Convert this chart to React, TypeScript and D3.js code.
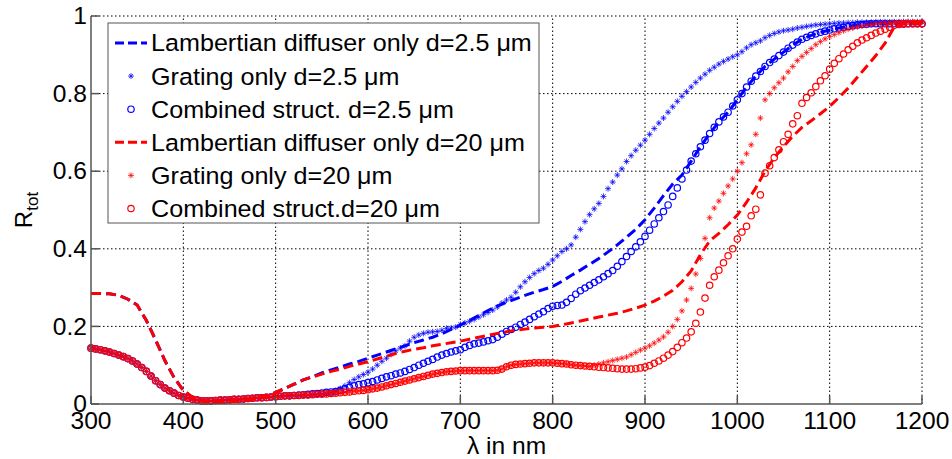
import React from 'react';
import * as d3 from 'd3';

const W = 952;
const H = 459;

// wavelength grids (nm)
const FINE_START = 300, FINE_STEP = 5;
const COARSE_START = 300, COARSE_STEP = 10;

const xTicks = [300, 400, 500, 600, 700, 800, 900, 1000, 1100, 1200];
const yTicks = [0, 0.2, 0.4, 0.6, 0.8, 1];
const yTickLabels = ['0', '0.2', '0.4', '0.6', '0.8', '1'];

// Lambertian diffuser only d=2.5 um (10 nm step)
const lambert25 = [
  .285,.285,.284,.280,.270,.255,.215,.165,.112,.068,
  .035,.017,.008,.005,.005,.006,.008,.011,.015,.021,
  .030,.040,.051,.062,.070,.080,.088,.095,.103,.110,
  .118,.126,.134,.142,.150,.158,.165,.172,.181,.192,
  .203,.215,.228,.241,.252,.262,.271,.280,.288,.295,
  .303,.316,.331,.345,.360,.375,.392,.410,.430,.450,
  .475,.505,.537,.567,.590,.626,.663,.697,.727,.752,
  .784,.817,.845,.870,.889,.907,.925,.940,.950,.958,
  .964,.969,.973,.977,.979,.980,.980,.980,.980,.980,
  .980,
];

// Grating only d=2.5 um (5 nm step)
const grating25 = [
  .144,.142,.140,.137,.134,.130,.126,.122,.117,.111,
  .103,.094,.084,.072,.060,.050,.041,.034,.028,.022,
  .018,.015,.012,.010,.008,.008,.008,.009,.010,.010,
  .011,.012,.012,.013,.014,.015,.016,.016,.017,.018,
  .019,.020,.021,.021,.022,.022,.023,.023,.024,.025,
  .025,.026,.030,.034,.040,.047,.055,.063,.070,.076,
  .082,.090,.100,.110,.118,.128,.137,.144,.150,.162,
  .172,.178,.182,.185,.186,.187,.190,.195,.196,.198,
  .205,.209,.213,.218,.224,.230,.236,.242,.250,.260,
  .268,.275,.288,.302,.315,.326,.336,.344,.350,.360,
  .371,.382,.393,.400,.410,.430,.450,.470,.488,.503,
  .517,.535,.555,.572,.590,.606,.625,.640,.654,.667,
  .680,.695,.710,.724,.737,.752,.766,.780,.793,.805,
  .817,.829,.840,.850,.860,.868,.876,.883,.889,.895,
  .900,.908,.918,.926,.931,.936,.944,.950,.955,.959,
  .962,.964,.966,.969,.971,.973,.975,.977,.978,.979,
  .980,.981,.982,.982,.983,.983,.984,.984,.984,.984,
  .985,.985,.985,.985,.985,.985,.985,.985,.985,.985,
  .985,
];

// Combined struct. d=2.5 um (5 nm step)
const combined25 = [
  .144,.142,.140,.137,.134,.130,.126,.122,.117,.111,
  .103,.094,.084,.072,.060,.050,.041,.034,.028,.022,
  .018,.015,.012,.010,.008,.008,.008,.009,.010,.010,
  .011,.012,.012,.013,.014,.015,.016,.016,.017,.018,
  .019,.020,.021,.021,.022,.023,.024,.025,.026,.027,
  .028,.030,.031,.032,.035,.039,.043,.047,.050,.052,
  .055,.058,.062,.066,.070,.073,.077,.080,.084,.089,
  .094,.100,.105,.110,.115,.121,.126,.130,.134,.137,
  .140,.146,.151,.155,.157,.160,.163,.166,.172,.180,
  .187,.192,.198,.205,.211,.218,.225,.232,.238,.246,
  .252,.254,.255,.262,.272,.283,.292,.299,.306,.313,
  .320,.328,.336,.344,.355,.367,.380,.393,.405,.418,
  .432,.448,.464,.480,.496,.513,.535,.557,.580,.603,
  .626,.645,.663,.680,.697,.713,.727,.740,.752,.768,
  .784,.800,.817,.832,.845,.857,.870,.880,.889,.898,
  .907,.917,.925,.933,.940,.945,.950,.954,.958,.961,
  .964,.967,.969,.971,.973,.975,.977,.978,.979,.980,
  .980,.980,.980,.980,.980,.980,.980,.980,.980,.980,
  .980,
];

// Lambertian diffuser only d=20 um (10 nm step)
const lambert20 = [
  .285,.285,.284,.280,.270,.255,.215,.165,.112,.068,
  .035,.017,.008,.005,.005,.006,.008,.011,.015,.021,
  .030,.040,.051,.062,.070,.077,.084,.090,.097,.103,
  .109,.116,.123,.130,.136,.141,.145,.150,.154,.158,
  .162,.167,.172,.177,.182,.186,.190,.193,.196,.198,
  .200,.204,.209,.214,.219,.224,.229,.234,.240,.247,
  .255,.265,.278,.293,.315,.343,.385,.420,.440,.462,
  .487,.520,.557,.600,.635,.663,.690,.713,.730,.748,
  .767,.790,.814,.842,.870,.898,.930,.972,.980,.980,
  .980,
];

// Grating only d=20 um (5 nm step)
const grating20 = [
  .144,.142,.140,.137,.134,.130,.126,.122,.117,.111,
  .103,.094,.084,.072,.060,.050,.041,.034,.028,.022,
  .018,.015,.012,.010,.008,.008,.008,.009,.010,.010,
  .011,.012,.012,.013,.014,.015,.016,.016,.017,.018,
  .019,.020,.021,.021,.022,.022,.023,.023,.024,.025,
  .025,.026,.027,.028,.029,.030,.031,.033,.034,.035,
  .037,.039,.041,.044,.047,.050,.053,.056,.059,.062,
  .065,.068,.071,.074,.077,.079,.081,.083,.084,.085,
  .086,.086,.086,.086,.086,.086,.086,.086,.087,.090,
  .096,.100,.102,.103,.104,.105,.106,.106,.106,.106,
  .106,.105,.104,.103,.101,.100,.099,.098,.097,.100,
  .103,.106,.109,.112,.115,.118,.121,.127,.133,.139,
  .144,.150,.157,.165,.173,.185,.200,.218,.240,.268,
  .298,.335,.375,.427,.480,.505,.523,.543,.562,.580,
  .600,.622,.645,.668,.695,.737,.784,.800,.815,.828,
  .840,.856,.870,.885,.896,.906,.916,.926,.934,.941,
  .947,.952,.957,.962,.966,.969,.972,.974,.976,.978,
  .980,.981,.982,.983,.984,.984,.985,.985,.985,.985,
  .985,
];

// Combined struct. d=20 um (5 nm step)
const combined20 = [
  .144,.142,.140,.137,.134,.130,.126,.122,.117,.111,
  .103,.094,.084,.072,.060,.050,.041,.034,.028,.022,
  .018,.015,.012,.010,.008,.008,.008,.009,.010,.010,
  .011,.012,.012,.013,.014,.015,.016,.016,.017,.018,
  .019,.020,.021,.021,.022,.022,.023,.023,.024,.025,
  .025,.026,.027,.028,.029,.030,.031,.033,.034,.035,
  .037,.039,.041,.044,.047,.050,.053,.056,.059,.062,
  .065,.068,.071,.074,.077,.079,.081,.083,.084,.085,
  .086,.086,.086,.086,.086,.086,.086,.086,.087,.090,
  .096,.100,.102,.103,.104,.105,.106,.106,.106,.106,
  .106,.105,.104,.103,.101,.100,.099,.098,.097,.096,
  .095,.094,.093,.092,.091,.090,.090,.090,.091,.093,
  .095,.099,.105,.111,.118,.126,.135,.146,.158,.170,
  .186,.208,.237,.273,.306,.328,.345,.364,.382,.400,
  .425,.443,.458,.485,.502,.539,.595,.614,.635,.655,
  .676,.695,.722,.743,.775,.790,.802,.818,.833,.846,
  .863,.878,.890,.902,.913,.922,.931,.938,.944,.950,
  .956,.961,.966,.971,.976,.978,.979,.980,.980,.980,
  .980,
];

const legendLabels = [
  'Lambertian diffuser only d=2.5 \u03bcm',
  'Grating only d=2.5 \u03bcm',
  'Combined struct. d=2.5 \u03bcm',
  'Lambertian diffuser only d=20 \u03bcm',
  'Grating only d=20 \u03bcm',
  'Combined struct.d=20 \u03bcm',
];

const BLUE = '#0000ff';
const RED = '#ff0000';

type Series = { values: number[]; start: number; step: number; kind: 'dash' | 'star' | 'circle'; color: string };

const series: Series[] = [
  { values: lambert25, start: COARSE_START, step: COARSE_STEP, kind: 'dash', color: BLUE },
  { values: grating25, start: FINE_START, step: FINE_STEP, kind: 'star', color: BLUE },
  { values: combined25, start: FINE_START, step: FINE_STEP, kind: 'circle', color: BLUE },
  { values: lambert20, start: COARSE_START, step: COARSE_STEP, kind: 'dash', color: RED },
  { values: grating20, start: FINE_START, step: FINE_STEP, kind: 'star', color: RED },
  { values: combined20, start: FINE_START, step: FINE_STEP, kind: 'circle', color: RED },
];

const FONT = '"Liberation Sans", Arial, sans-serif';
const STAR = 'M-3,0H3M0,-3V3M-2.1,-2.1L2.1,2.1M-2.1,2.1L2.1,-2.1';
const SX = 1.07; // horizontal stretch of the reference's lettering

function Marker({ kind, color, x, y }: { kind: string; color: string; x: number; y: number }) {
  if (kind === 'star') {
    return <path d={STAR} transform={`translate(${x},${y})`} stroke={color} strokeWidth={0.9} fill="none" opacity={0.85} />;
  }
  return <circle cx={x} cy={y} r={3.2} stroke={color} strokeWidth={1.2} fill="none" />;
}

function T({ x, y, anchor, size, dy, children }: { x: number; y: number; anchor?: string; size: number; dy?: string; children: React.ReactNode }) {
  return (
    <text transform={`translate(${x},${y}) scale(${SX},1)`} textAnchor={anchor || 'start'} fontSize={size} dy={dy} fill="#000">
      {children}
    </text>
  );
}

export default function App() {
  const left = 91, right = 922, top = 16, bottom = 404;
  const x = d3.scaleLinear().domain([300, 1200]).range([left, right]);
  const y = d3.scaleLinear().domain([0, 1]).range([bottom, top]);
  const line = d3.line<[number, number]>().x(d => x(d[0])).y(d => y(d[1]));

  const pts = (s: Series): [number, number][] => s.values.map((v, i) => [s.start + i * s.step, v]);

  const legend = { x: 108, y: 23, w: 431, h: 200 };
  const rowY = (i: number) => 43 + i * 33.1;

  return (
    <svg width={W} height={H} style={{ position: 'absolute', left: 0, top: 0, background: '#fff' }} fontFamily={FONT}>
      <rect x={0} y={0} width={W} height={H} fill="#fff" />
      {/* grid */}
      <g stroke="#000" strokeWidth={1} strokeDasharray="1.5,2.5">
        {xTicks.filter(t => t !== 300).map(t => (
          <line key={'gx' + t} x1={x(t)} x2={x(t)} y1={bottom} y2={top} />
        ))}
        {yTicks.filter(t => t !== 0).map(t => (
          <line key={'gy' + t} x1={left} x2={right} y1={y(t)} y2={y(t)} />
        ))}
      </g>
      {/* data */}
      {series.map((s, si) =>
        s.kind === 'dash' ? (
          <path key={si} d={line(pts(s)) || ''} fill="none" stroke={s.color} strokeWidth={3} strokeDasharray="10,5" />
        ) : (
          <g key={si}>
            {pts(s).map((p, i) => (
              <Marker key={i} kind={s.kind} color={s.color} x={x(p[0])} y={y(p[1])} />
            ))}
          </g>
        )
      )}
      {/* axes */}
      <g stroke="#555" strokeWidth={1.5}>
        <line x1={left} x2={left} y1={top} y2={bottom} />
        <line x1={left} x2={right} y1={bottom} y2={bottom} />
        {xTicks.map(t => (
          <line key={'tx' + t} x1={x(t)} x2={x(t)} y1={bottom} y2={bottom - 8} />
        ))}
        {yTicks.map(t => (
          <line key={'ty' + t} x1={left} x2={left + 8} y1={y(t)} y2={y(t)} />
        ))}
      </g>
      {xTicks.map(t => (
        <T key={'lx' + t} x={x(t)} y={429} anchor="middle" size={23}>{t}</T>
      ))}
      {yTicks.map((t, i) => (
        <T key={'ly' + t} x={left - 4} y={y(t)} anchor="end" size={23} dy="0.36em">{yTickLabels[i]}</T>
      ))}
      <T x={(left + right) / 2} y={454} anchor="middle" size={23}>{'\u03bb in nm'}</T>
      <text transform={`translate(32,${(top + bottom) / 2}) rotate(-90)`} textAnchor="middle" fontSize={24}>
        R<tspan fontSize={17} dy={6}>tot</tspan>
      </text>
      {/* legend */}
      <rect x={legend.x} y={legend.y} width={legend.w} height={legend.h} fill="#fff" stroke="#555" strokeWidth={1} />
      {series.map((s, i) => (
        <g key={'lg' + i}>
          {s.kind === 'dash' ? (
            <line x1={115} x2={147} y1={rowY(i)} y2={rowY(i)} stroke={s.color} strokeWidth={3} strokeDasharray="9,4" />
          ) : (
            <Marker kind={s.kind} color={s.color} x={131} y={rowY(i)} />
          )}
          <T x={151} y={rowY(i)} size={23.5} dy="0.36em">{legendLabels[i]}</T>
        </g>
      ))}
    </svg>
  );
}
